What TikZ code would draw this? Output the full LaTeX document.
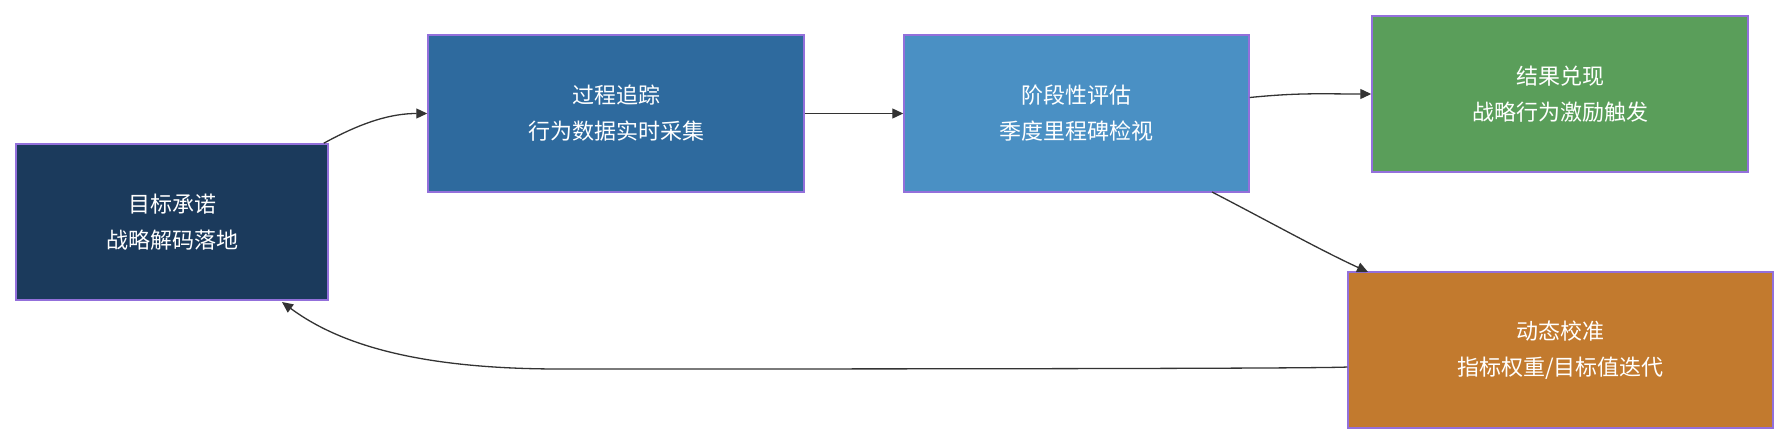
\documentclass[tikz,border=0pt]{standalone}
\usepackage{fontspec}
\newfontfamily\cjk{Noto Sans CJK SC}
\usetikzlibrary{arrows.meta}
\begin{document}
\begin{tikzpicture}[x=1pt,y=-1pt,
 box/.style={draw=purple!40!blue!50!white,line width=1.5pt,inner sep=0pt,text=white,font=\cjk\fontsize{22}{36}\selectfont,align=center},
 arr/.style={draw=black!80,line width=1.3pt,-{Triangle[length=11pt,width=10pt]}}]
\definecolor{bd}{HTML}{9370DB}
\tikzset{box/.append style={draw=bd}}
\useasboundingbox (0,0) rectangle (1788,444);
\node[box,fill={rgb,255:red,27;green,58;blue,92},minimum width=312pt,minimum height=156pt] (a) at (172,222) {目标承诺\\战略解码落地};
\node[box,fill={rgb,255:red,46;green,106;blue,158},minimum width=376pt,minimum height=157pt] (b) at (616,113.5) {过程追踪\\行为数据实时采集};
\node[box,fill={rgb,255:red,74;green,144;blue,196},minimum width=345pt,minimum height=157pt] (c) at (1076.5,113.5) {阶段性评估\\季度里程碑检视};
\node[box,fill={rgb,255:red,90;green,158;blue,90},minimum width=376pt,minimum height=156pt] (d) at (1560,94) {结果兑现\\战略行为激励触发};
\node[box,fill={rgb,255:red,194;green,122;blue,46},minimum width=425pt,minimum height=156pt] (e) at (1560.5,350) {动态校准\\指标权重/目标值迭代};
\draw[arr] (a.north east)+(-5,0) .. controls +(40,-22) and +(-35,0) .. (b.west);
\draw[arr] (b.east) -- (c.west);
\draw[arr] (c.east)+(0,-16) .. controls +(50,-5) and +(-50,0) .. (d.west |- 0,94);
\draw[arr] (1212,192) .. controls (1270,222) and (1320,250) .. (1368,272);
\draw[arr] (e.west)+(0,17) .. controls +(-30,2) and +(120,0) .. (560,369) .. controls (420,369) and (340,345) .. (282,302);
\end{tikzpicture}
\end{document}
